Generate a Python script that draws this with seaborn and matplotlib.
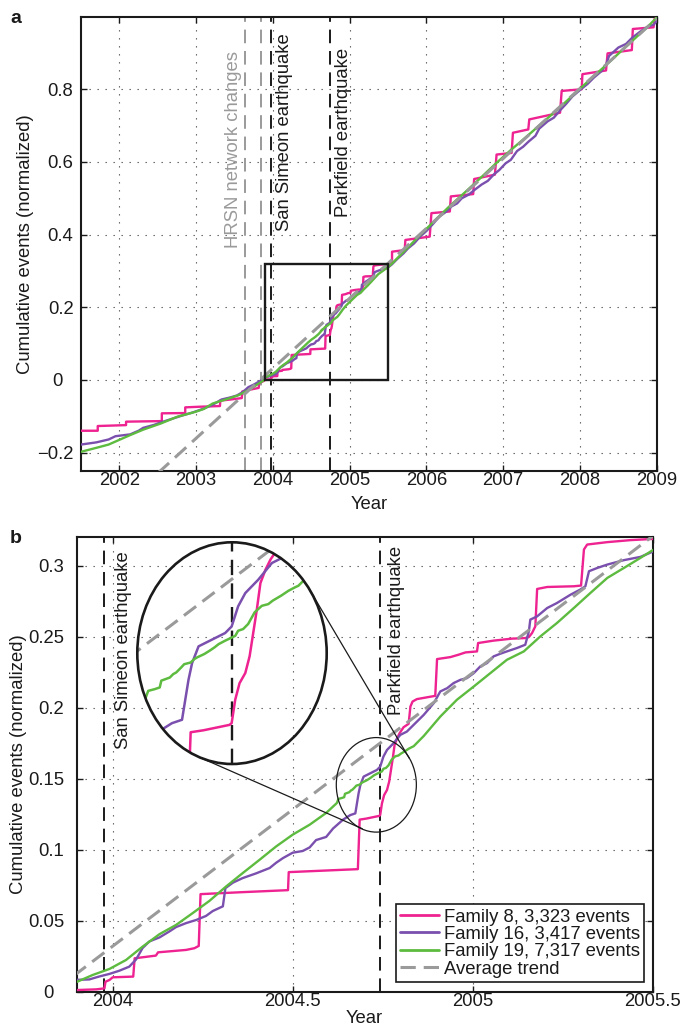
import matplotlib
matplotlib.use('Agg')
import matplotlib.pyplot as plt
import matplotlib.ticker as mticker
from matplotlib.patches import Ellipse, Rectangle
from matplotlib.lines import Line2D
import seaborn as sns
import numpy as np

# ---- data ----
# Family 8 (pink, step-like)
fam8_year = [2001.50, 2001.718, 2001.718, 2002.087, 2002.087, 2002.553, 2002.553, 2002.858, 2002.858,
             2003.054, 2003.31, 2003.315, 2003.45, 2003.595, 2003.60, 2003.70, 2003.815, 2003.82, 2003.89,
             2003.898, 2003.954, 2003.977, 2003.980, 2003.991, 2004.000, 2004.057, 2004.061, 2004.120,
             2004.126, 2004.204, 2004.227, 2004.239, 2004.244, 2004.361, 2004.487, 2004.489, 2004.681,
             2004.686, 2004.704, 2004.740, 2004.743, 2004.748, 2004.754, 2004.762, 2004.768, 2004.773,
             2004.778, 2004.783, 2004.790, 2004.797, 2004.808, 2004.822, 2004.827, 2004.833, 2004.845,
             2004.896, 2004.901, 2004.938, 2004.961, 2004.980, 2005.012, 2005.015, 2005.058, 2005.109,
             2005.146, 2005.156, 2005.165, 2005.174, 2005.179, 2005.207, 2005.281, 2005.301, 2005.309,
             2005.318, 2005.374, 2005.438, 2005.503,
             2005.552, 2005.552, 2005.717, 2005.726, 2006.043, 2006.065, 2006.305, 2006.318, 2006.609,
             2006.622, 2006.892, 2006.914, 2007.110, 2007.127, 2007.327, 2007.340, 2007.741, 2007.762,
             2008.023, 2008.032, 2008.340, 2008.360, 2008.676, 2008.689, 2008.959, 2008.972, 2009.000]
fam8_value = [-0.140, -0.140, -0.127, -0.1245, -0.115, -0.1134, -0.092, -0.0913, -0.0756,
              -0.0738, -0.072, -0.057, -0.054, -0.050, -0.032, -0.027, -0.022, -0.009, -0.002,
              0.0010, 0.0015, 0.0022, 0.0069, 0.0081, 0.0100, 0.0105, 0.0234, 0.0253,
              0.0276, 0.0293, 0.0305, 0.0321, 0.0686, 0.0700, 0.0714, 0.0841, 0.0862,
              0.1211, 0.1218, 0.1237, 0.1243, 0.1326, 0.1384, 0.1420, 0.1479, 0.1561,
              0.1643, 0.1737, 0.1784, 0.1820, 0.1862, 0.1886, 0.2008, 0.2043, 0.2060,
              0.2083, 0.2342, 0.2356, 0.2373, 0.2389, 0.2396, 0.2455, 0.2472, 0.2486,
              0.2490, 0.2497, 0.2526, 0.2573, 0.2836, 0.2850, 0.2855, 0.2860, 0.3114,
              0.3149, 0.3166, 0.3180, 0.3189,
              0.3207, 0.3530, 0.3576, 0.3853, 0.3945, 0.4591, 0.4637, 0.5052, 0.5116,
              0.5531, 0.5651, 0.6204, 0.6250, 0.6804, 0.6896, 0.7172, 0.7357, 0.7956,
              0.8002, 0.8417, 0.8520, 0.8990, 0.9081, 0.9662, 0.9708, 0.9940, 0.9950]

# Family 16 (purple)
fam16_year = [2001.50, 2001.70, 2001.86, 2001.95, 2002.14, 2002.25, 2002.31, 2002.45, 2002.54, 2002.70,
              2002.82, 2002.95, 2003.10, 2003.22, 2003.33, 2003.45, 2003.53, 2003.61, 2003.68, 2003.76,
              2003.88,
              2003.898, 2003.935, 2003.963, 2003.991, 2004.018, 2004.046, 2004.065, 2004.083, 2004.102,
              2004.130, 2004.158, 2004.176, 2004.204, 2004.232, 2004.259, 2004.278, 2004.306, 2004.313,
              2004.334, 2004.361, 2004.398, 2004.436, 2004.454, 2004.473, 2004.500, 2004.528, 2004.547,
              2004.565, 2004.593, 2004.612, 2004.640, 2004.660, 2004.674, 2004.683, 2004.688, 2004.697,
              2004.715, 2004.734, 2004.743, 2004.752, 2004.762, 2004.780, 2004.799, 2004.817, 2004.836,
              2004.864, 2004.892, 2004.910, 2004.929, 2004.947, 2004.966, 2004.984, 2005.003, 2005.021,
              2005.040, 2005.058, 2005.077, 2005.095, 2005.123, 2005.146, 2005.156, 2005.160, 2005.179,
              2005.207, 2005.234, 2005.272, 2005.299, 2005.313, 2005.323, 2005.346, 2005.374, 2005.420,
              2005.466, 2005.503,
              2005.55, 2005.62, 2005.70, 2005.76, 2005.84, 2005.92, 2006.00, 2006.08, 2006.17, 2006.25,
              2006.33, 2006.40, 2006.46, 2006.55, 2006.62, 2006.72, 2006.80, 2006.88, 2006.95, 2007.03,
              2007.10, 2007.18, 2007.26, 2007.33, 2007.42, 2007.47, 2007.58, 2007.66, 2007.74, 2007.82,
              2007.90, 2008.00, 2008.10, 2008.18, 2008.28, 2008.34, 2008.38, 2008.50, 2008.60, 2008.68,
              2008.78, 2008.88, 2008.96, 2009.00]
fam16_value = [-0.178, -0.172, -0.164, -0.155, -0.150, -0.140, -0.132, -0.124, -0.117, -0.106,
               -0.098, -0.090, -0.079, -0.068, -0.054, -0.048, -0.043, -0.033, -0.020, -0.012,
               0.003,
               0.0082, 0.0085, 0.0106, 0.0124, 0.0146, 0.0175, 0.0226, 0.0306, 0.0353,
               0.0381, 0.0424, 0.0454, 0.0482, 0.0504, 0.0532, 0.0567, 0.0600, 0.0728,
               0.0767, 0.0799, 0.0832, 0.0870, 0.0907, 0.0940, 0.0978, 0.0990, 0.1015,
               0.1067, 0.1089, 0.1148, 0.1211, 0.1243, 0.1255, 0.1396, 0.1455, 0.1514,
               0.1537, 0.1561, 0.1584, 0.1655, 0.1702, 0.1749, 0.1808, 0.1831, 0.1879,
               0.1949, 0.2032, 0.2114, 0.2137, 0.2173, 0.2196, 0.2208, 0.2243, 0.2290,
               0.2314, 0.2361, 0.2380, 0.2396, 0.2420, 0.2443, 0.2537, 0.2620, 0.2643,
               0.2702, 0.2737, 0.2796, 0.2832, 0.2855, 0.2961, 0.2984, 0.3008, 0.3039,
               0.3062, 0.3102,
               0.318, 0.333, 0.348, 0.362, 0.376, 0.395, 0.410, 0.428, 0.450, 0.462,
               0.478, 0.486, 0.500, 0.510, 0.522, 0.538, 0.548, 0.566, 0.578, 0.596,
               0.606, 0.630, 0.642, 0.656, 0.672, 0.692, 0.712, 0.722, 0.742, 0.760,
               0.780, 0.798, 0.815, 0.832, 0.850, 0.868, 0.892, 0.915, 0.925, 0.942,
               0.958, 0.972, 0.978, 0.988]

# Family 19 (green)
fam19_year = [2001.50, 2001.70, 2001.86, 2002.00, 2002.14, 2002.31, 2002.54, 2002.76, 2002.99, 2003.10,
              2003.215, 2003.385, 2003.554, 2003.724, 2003.80, 2003.89,
              2003.898, 2003.944, 2003.991, 2004.037, 2004.083, 2004.130, 2004.176, 2004.222, 2004.269,
              2004.315, 2004.361, 2004.408, 2004.454, 2004.500, 2004.547, 2004.593,
              2004.6227, 2004.627, 2004.636, 2004.643, 2004.6452, 2004.657, 2004.6617, 2004.666, 2004.673,
              2004.677, 2004.686, 2004.691, 2004.695, 2004.700, 2004.705, 2004.712, 2004.719, 2004.725,
              2004.734, 2004.739, 2004.748, 2004.752, 2004.759, 2004.766, 2004.775, 2004.785, 2004.794,
              2004.800, 2004.812, 2004.822, 2004.831, 2004.836,
              2004.864, 2004.910, 2004.956, 2005.003, 2005.049, 2005.095, 2005.142, 2005.188, 2005.234,
              2005.281, 2005.327, 2005.374, 2005.420, 2005.466, 2005.503,
              2005.55, 2005.70, 2005.90, 2006.10, 2006.30, 2006.50, 2006.70, 2006.90, 2007.10, 2007.30,
              2007.50, 2007.70, 2007.90, 2008.10, 2008.30, 2008.50, 2008.70, 2008.90, 2009.00]
fam19_value = [-0.198, -0.187, -0.178, -0.165, -0.152, -0.137, -0.120, -0.101, -0.088, -0.080,
               -0.065, -0.054, -0.042, -0.023, -0.012, 0.000,
               0.0065, 0.0116, 0.0159, 0.0222, 0.0316, 0.0404, 0.0469, 0.0552, 0.0639,
               0.0740, 0.0834, 0.0928, 0.1022, 0.1105, 0.1175, 0.1258,
               0.1328, 0.1357, 0.1363, 0.1369, 0.1393, 0.1404, 0.1416, 0.1422, 0.1440,
               0.1451, 0.1457, 0.1469, 0.1475, 0.1481, 0.1487, 0.1498, 0.1510, 0.1522,
               0.1534, 0.1540, 0.1551, 0.1569, 0.1575, 0.1593, 0.1634, 0.1657, 0.1663,
               0.1675, 0.1693, 0.1710, 0.1722, 0.1728,
               0.1800, 0.1937, 0.2055, 0.2149, 0.2243, 0.2337, 0.2396, 0.2502, 0.2596,
               0.2702, 0.2808, 0.2914, 0.2984, 0.3055, 0.3114,
               0.320, 0.352, 0.395, 0.437, 0.478, 0.516, 0.555, 0.595, 0.633, 0.669,
               0.706, 0.743, 0.782, 0.821, 0.859, 0.898, 0.937, 0.976, 0.998]

trend_year = [2002.50, 2009.00]
trend_value = [-0.257, 0.995]

hrsn_years = [2003.641, 2003.850]
san_simeon_year = 2003.977
parkfield_year = 2004.7435

legend_labels = ['Family 8, 3,323 events', 'Family 16, 3,417 events',
                 'Family 19, 7,317 events', 'Average trend']

# ---- styling ----
C8, C16, C19 = '#ee2290', '#7a4fae', '#5dbb3f'
GRAY = '#9a9a9a'
INK = '#1a1a1a'
FS = 13.3

sns.set_theme(style='white')
plt.rcParams['font.family'] = ['Liberation Sans', 'DejaVu Sans']
plt.rcParams['axes.unicode_minus'] = True

W, H = 680, 1031
fig = plt.figure(figsize=(W / 100, H / 100), dpi=100)


def frac(l, t, r, b):
    return [l / W, 1 - b / H, (r - l) / W, (b - t) / H]


def tick_fmt(v, pos):
    if abs(v) < 1e-9:
        return '0\u2007'
    return f'{v:g}'.replace('-', '\u2212')


def style_axes(ax, ypad):
    for s in ax.spines.values():
        s.set_visible(True)
        s.set_linewidth(1.5)
        s.set_color(INK)
    ax.tick_params(axis='both', direction='in', length=4, width=1, colors=INK,
                   top=True, right=True, bottom=True, left=True, labelsize=FS)
    ax.tick_params(axis='x', pad=1)
    ax.tick_params(axis='y', pad=ypad)
    ax.grid(True, linestyle=(0, (1.2, 6)), color='#555555', linewidth=0.8)
    ax.set_axisbelow(True)
    ax.yaxis.set_major_formatter(mticker.FuncFormatter(tick_fmt))
    ax.xaxis.set_major_formatter(mticker.FuncFormatter(lambda v, p: f'{v:g}'))


def draw_families(ax, lw=1.7):
    sns.lineplot(x=fam8_year, y=fam8_value, ax=ax, color=C8, lw=lw, sort=False, estimator=None, zorder=3)
    sns.lineplot(x=fam16_year, y=fam16_value, ax=ax, color=C16, lw=lw, sort=False, estimator=None, zorder=3)
    sns.lineplot(x=fam19_year, y=fam19_value, ax=ax, color=C19, lw=lw, sort=False, estimator=None, zorder=3)


EQ_DASH = (0, (7, 4))
TR_DASH = (0, (5, 2.6))

# ---- panel a ----
ax_a = fig.add_axes(frac(81, 16.7, 656.7, 470.7))
for yr in hrsn_years:
    ax_a.axvline(yr, color=GRAY, lw=1.4, ls=EQ_DASH, zorder=1.5)
ax_a.axvline(san_simeon_year, color=INK, lw=1.4, ls=EQ_DASH, zorder=1.5)
ax_a.axvline(parkfield_year, color=INK, lw=1.4, ls=EQ_DASH, zorder=1.5)
draw_families(ax_a)
sns.lineplot(x=trend_year, y=trend_value, ax=ax_a, color=GRAY, lw=2.2, estimator=None, zorder=4)
ax_a.lines[-1].set_linestyle(TR_DASH)
ax_a.add_patch(Rectangle((2003.9, 0.0), 1.6, 0.32, fill=False, ec=INK, lw=1.7, zorder=5))

ax_a.set_xlim(2001.5, 2009)
ax_a.set_ylim(-0.25, 1.0)
ax_a.xaxis.set_major_locator(mticker.FixedLocator(list(range(2002, 2010))))
ax_a.yaxis.set_major_locator(mticker.FixedLocator([-0.2, 0, 0.2, 0.4, 0.6, 0.8]))
style_axes(ax_a, ypad=5.4)
ax_a.set_xlabel('Year', fontsize=FS, color=INK, labelpad=5)
ax_a.set_ylabel('Cumulative events (normalized)', fontsize=FS, color=INK, labelpad=2)

ax_a.text(2003.484, 0.905, 'HRSN network changes', rotation=90, ha='center', va='top',
          fontsize=FS, color=GRAY)
ax_a.text(2004.157, 0.954, 'San Simeon earthquake', rotation=90, ha='center', va='top',
          fontsize=FS, color=INK)
ax_a.text(2004.914, 0.913, 'Parkfield earthquake', rotation=90, ha='center', va='top',
          fontsize=FS, color=INK)

# ---- panel b ----
ax_b = fig.add_axes(frac(76.7, 537.3, 652.7, 991.5))
ax_b.axvline(san_simeon_year, color=INK, lw=1.4, ls=EQ_DASH, zorder=1.5)
ax_b.axvline(parkfield_year, color=INK, lw=1.4, ls=EQ_DASH, zorder=1.5)
draw_families(ax_b)
sns.lineplot(x=trend_year, y=trend_value, ax=ax_b, color=GRAY, lw=2.2, estimator=None, zorder=4)
ax_b.lines[-1].set_linestyle(TR_DASH)

ax_b.set_xlim(2003.9, 2005.5)
ax_b.set_ylim(0, 0.32)
ax_b.xaxis.set_major_locator(mticker.FixedLocator([2004, 2004.5, 2005, 2005.5]))
ax_b.yaxis.set_major_locator(mticker.FixedLocator([0, 0.05, 0.1, 0.15, 0.2, 0.25, 0.3]))
style_axes(ax_b, ypad=9)
ax_b.set_xlabel('Year', fontsize=FS, color=INK, labelpad=0)
ax_b.set_ylabel('Cumulative events (normalized)', fontsize=FS, color=INK, labelpad=1)

ax_b.text(2004.030, 0.3104, 'San Simeon earthquake', rotation=90, ha='center', va='top',
          fontsize=FS, color=INK)
ax_b.text(2004.789, 0.3138, 'Parkfield earthquake', rotation=90, ha='center', va='top',
          fontsize=FS, color=INK)

# small ellipse marking the magnified region
sm_c, sm_w, sm_h = (2004.7323, 0.1456), 2 * 0.1112, 2 * 0.0333
ax_b.add_patch(Ellipse(sm_c, sm_w, sm_h, fill=False, ec=INK, lw=0.9, zorder=6))

handles = [Line2D([], [], color=C8, lw=2), Line2D([], [], color=C16, lw=2),
           Line2D([], [], color=C19, lw=2), Line2D([], [], color=GRAY, lw=2.2, ls=TR_DASH)]
leg = ax_b.legend(handles, legend_labels, loc='lower right', bbox_to_anchor=(0.985, 0.0216),
                  borderaxespad=0, frameon=True, fancybox=False, edgecolor=INK, framealpha=1,
                  fontsize=FS, handlelength=2.1, handletextpad=0.25, labelspacing=0.02,
                  borderpad=0.22)
leg.get_frame().set_linewidth(1.2)
for t in leg.get_texts():
    t.set_color(INK)

# ---- magnified inset (big ellipse) ----
ax_in = fig.add_axes(frac(137.3, 542.3, 326.7, 764.0))
ax_in.patch.set_alpha(0)
clip = Ellipse((0.5, 0.5), 1, 1, transform=ax_in.transAxes, fc='none', ec='none')
ax_in.add_patch(clip)
ax_in.axvline(parkfield_year, color=INK, lw=1.7, ls=(0, (6.5, 3.5)), zorder=1.5)
draw_families(ax_in, lw=1.8)
sns.lineplot(x=trend_year, y=trend_value, ax=ax_in, color=GRAY, lw=2.2, estimator=None, zorder=4)
ax_in.lines[-1].set_linestyle(TR_DASH)
for ln in ax_in.lines:
    ln.set_clip_path(clip)
ax_in.set_xlim(parkfield_year - 0.1317, parkfield_year + 0.1317)
ax_in.set_ylim(0.149 - 0.0391, 0.149 + 0.0391)
ax_in.axis('off')
ax_in.add_patch(Ellipse((0.5, 0.5), 1, 1, transform=ax_in.transAxes, fill=False, ec=INK,
                        lw=1.9, clip_on=False, zorder=10))

# connector lines: external tangents of the two ellipses (display coords)
big_c = ax_in.transAxes.transform((0.5, 0.5))
big_r = ax_in.transAxes.transform((1.0, 1.0)) - big_c
sm_cd = ax_b.transData.transform(sm_c)
sm_r = ax_b.transData.transform((sm_c[0] + sm_w / 2, sm_c[1] + sm_h / 2)) - sm_cd
s = big_r[0] / big_r[1]
p1 = np.array([big_c[0], big_c[1] * s])
p2 = np.array([sm_cd[0], sm_cd[1] * s])
r1, r2 = big_r[0], sm_r[0]
d = p2 - p1
D = np.hypot(d[0], d[1])
base = np.arctan2(d[1], d[0])
off = np.arccos((r1 - r2) / D)
to_fig = fig.transFigure.inverted()
for phi in (base + off, base - off):
    u = np.array([np.cos(phi), np.sin(phi)])
    q1 = p1 + r1 * u
    q2 = p2 + r2 * u
    a = to_fig.transform((q1[0], q1[1] / s))
    b = to_fig.transform((q2[0], q2[1] / s))
    fig.add_artist(Line2D([a[0], b[0]], [a[1], b[1]], color=INK, lw=0.9,
                          transform=fig.transFigure))

# panel letters
fig.text(10 / W, 1 - 23 / H, 'a', fontsize=14, fontweight='bold', va='baseline', ha='left', color=INK)
fig.text(10 / W, 1 - 542.7 / H, 'b', fontsize=14, fontweight='bold', va='baseline', ha='left', color=INK)

fig.savefig('out.png', dpi=100)
plt.close(fig)
